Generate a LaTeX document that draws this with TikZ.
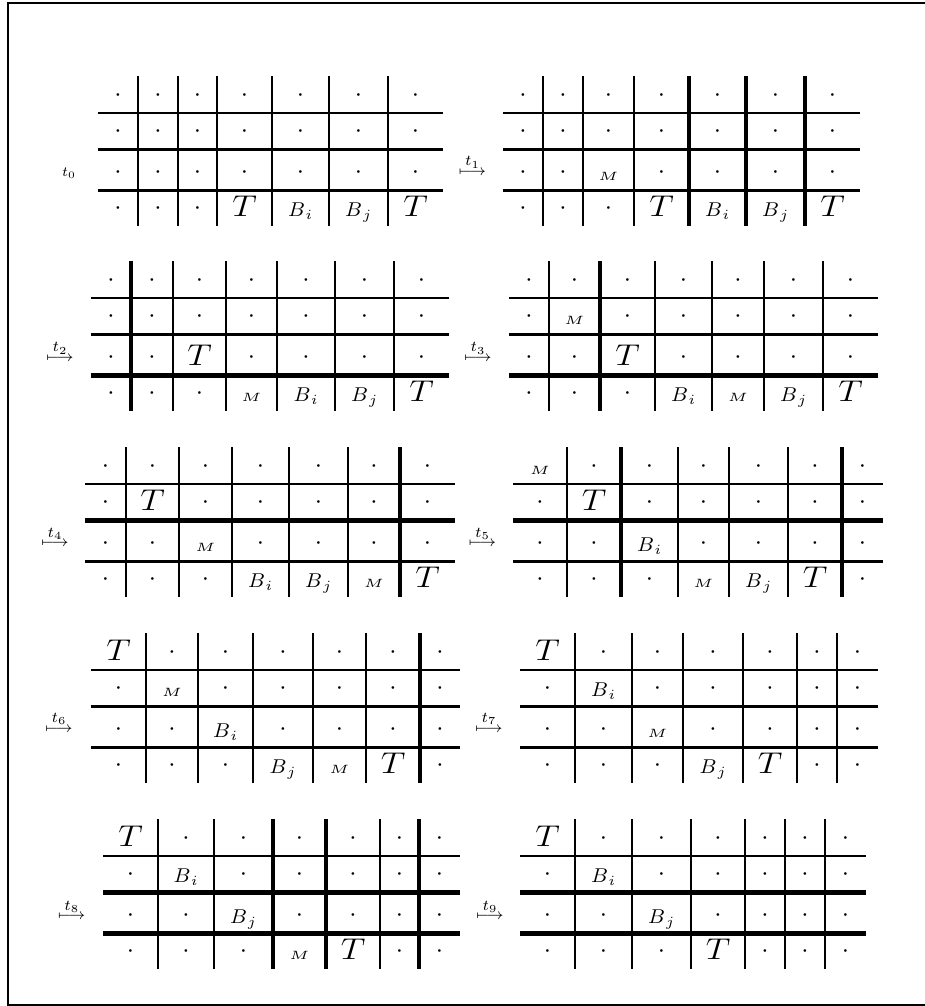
\RequirePackage{fix-cm}
\documentclass[tikz,border=0pt]{standalone}
\usepackage{amsmath}
\tikzset{
  rule n/.style={line width=2.8pt},
  rule t/.style={line width=4.3pt},
  frame/.style={line width=2pt},
  cellbase/.style={anchor=base, inner sep=0pt},
  cell d/.style={cellbase, font=\fontsize{26}{26}\selectfont, yshift=1.8pt, node contents={$\cdot$}},
  cell T/.style={cellbase, font=\fontsize{30}{30}\selectfont, xscale=1.15, node contents={$T$}},
  cell Bi/.style={cellbase, font=\fontsize{10}{10}\selectfont, scale=2, xscale=1.05, node contents={$B_{\mkern2mu i}$}},
  cell Bj/.style={cellbase, font=\fontsize{10}{10}\selectfont, scale=2, xscale=1.05, node contents={$B_{\mkern2mu j}$}},
  cell M/.style={cellbase, font=\fontsize{5}{5}\selectfont, scale=2.4, xscale=1.2, node contents={$M$}},
  steplabel/.style={anchor=base, inner sep=0pt, font=\fontsize{7}{7}\selectfont, scale=2},
  steparrow/.style={anchor=base, inner sep=0pt, font=\fontsize{7}{7}\selectfont, scale=2.15},
}
% #1 index, #2 top, #3 column borders, #4 inner column rules, #5 row rules, #6 cells
\newcommand{\drawstate}[6]{%
  \def\xs{#3}%
  \pgfmathsetmacro\xl{{\xs}[0]}%
  \pgfmathsetmacro\xr{{\xs}[7]}%
  \foreach \w [count=\k] in {#5} {
    \pgfmathsetmacro\yv{#2+{37,73.5,114.5}[\k-1]}
    \draw[rule \w] (\xl,\yv) -- (\xr,\yv);
  }
  \foreach \w [count=\k] in {#4} {
    \pgfmathsetmacro\xv{{\xs}[\k]}
    \draw[rule \w] (\xv,#2) -- (\xv,#2+150);
  }
  \foreach \cells [count=\r] in {#6} {
    \pgfmathsetmacro\yb{#2+{27,63.5,104.5,140}[\r-1]}
    \foreach \v [count=\c] in \cells {
      \pgfmathsetmacro\xa{{\xs}[\c-1]}
      \pgfmathsetmacro\xb{{\xs}[\c]}
      \pgfmathsetmacro\xc{(\xa+\xb)/2}
      \node (s#1-\r-\c) at (\xc,\yb) [cell \v];
    }
  }
}
\begin{document}
\begin{tikzpicture}[x=1pt,y=-1pt]
\useasboundingbox (0,0) rectangle (924,1006);
\draw[frame] (8,3) rectangle (932,1005);

% t0 and t1
\drawstate{0}{76}{98,138,178,217,272,329,388,443}{n,n,n,n,n,n}{n,n,n}
  {{d,d,d,d,d,d,d},{d,d,d,d,d,d,d},{d,d,d,d,d,d,d},{d,d,d,T,Bi,Bj,T}}
\drawstate{1}{76}{503,543,583,634,689,746,805,860}{n,n,n,t,t,t}{n,n,n}
  {{d,d,d,d,d,d,d},{d,d,d,d,d,d,d},{d,d,M,d,d,d,d},{d,d,d,T,Bi,Bj,T}}
\node[steplabel] (l0) at (69,176.5) {$t_0$};
\node[steparrow] (a1) at (472.5,175.5) {$\stackrel{\textstyle t_1}{\longmapsto}$};

% t2 and t3
\drawstate{2}{261}{91,131,173,226,277,335,394,449}{t,n,n,n,n,n}{n,n,t}
  {{d,d,d,d,d,d,d},{d,d,d,d,d,d,d},{d,d,T,d,d,d,d},{d,d,d,M,Bi,Bj,T}}
\drawstate{3}{261}{509,549,600,655,712,764,823,878}{n,t,n,n,n,n}{n,n,t}
  {{d,d,d,d,d,d,d},{d,M,d,d,d,d,d},{d,d,T,d,d,d,d},{d,d,d,Bi,M,Bj,T}}
\node[steparrow] (a2) at (60,361.5) {$\stackrel{\textstyle t_2}{\longmapsto}$};
\node[steparrow] (a3) at (478,361.5) {$\stackrel{\textstyle t_3}{\longmapsto}$};

% t4 and t5
\drawstate{4}{447}{85,126,179,232,289,348,400,455}{n,n,n,n,n,t}{n,t,n}
  {{d,d,d,d,d,d,d},{d,T,d,d,d,d,d},{d,d,M,d,d,d,d},{d,d,d,Bi,Bj,M,T}}
\drawstate{5}{447}{513,567,621,678,729,788,842,883}{n,t,n,n,n,t}{n,t,n}
  {{M,d,d,d,d,d,d},{d,T,d,d,d,d,d},{d,d,Bi,d,d,d,d},{d,d,d,M,Bj,T,d}}
\node[steparrow] (a4) at (55,546.8) {$\stackrel{\textstyle t_4}{\longmapsto}$};
\node[steparrow] (a5) at (482.5,546.8) {$\stackrel{\textstyle t_5}{\longmapsto}$};

% t6 and t7
\drawstate{6}{633}{91,146,198,253,313,366,420,460}{n,n,n,n,n,t}{n,n,n}
  {{T,d,d,d,d,d,d},{d,M,d,d,d,d,d},{d,d,Bi,d,d,d,d},{d,d,d,Bj,M,T,d}}
\drawstate{7}{633}{520,575,632,683,743,797,837,878}{n,n,n,n,n,n}{n,n,n}
  {{T,d,d,d,d,d,d},{d,Bi,d,d,d,d,d},{d,d,M,d,d,d,d},{d,d,d,Bj,T,d,d}}
\node[steparrow] (a6) at (59,732) {$\stackrel{\textstyle t_6}{\longmapsto}$};
\node[steparrow] (a7) at (489,732) {$\stackrel{\textstyle t_7}{\longmapsto}$};

% t8 and t9
\drawstate{8}{819}{103,158,214,273,326,380,419,460}{n,n,t,t,n,t}{n,t,t}
  {{T,d,d,d,d,d,d},{d,Bi,d,d,d,d,d},{d,d,Bj,d,d,d,d},{d,d,d,M,T,d,d}}
\drawstate{9}{819}{520,575,632,691,745,785,825,866}{n,n,n,n,n,n}{n,t,t}
  {{T,d,d,d,d,d,d},{d,Bi,d,d,d,d,d},{d,d,Bj,d,d,d,d},{d,d,d,T,d,d,d}}
\node[steparrow] (a8) at (71.7,919.7) {$\stackrel{\textstyle t_8}{\longmapsto}$};
\node[steparrow] (a9) at (490,919.7) {$\stackrel{\textstyle t_9}{\longmapsto}$};
\end{tikzpicture}
\end{document}
